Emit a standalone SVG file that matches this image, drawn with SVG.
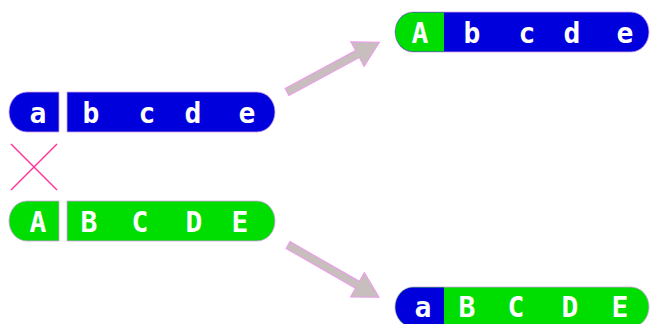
<svg xmlns="http://www.w3.org/2000/svg" width="650" height="324" viewBox="0 0 650 324">
<style>
.b{fill:#0000dd;stroke:#d8a0e8;stroke-width:0.8}
.g{fill:#00dd00;stroke:#d8a0e8;stroke-width:0.8}
.gn{fill:#00dd00}
.bn{fill:#0000dd}
text{font-family:"DejaVu Sans Mono","Liberation Mono",monospace;font-weight:bold;font-size:28px;fill:#ffffff;text-anchor:middle}
.arr{fill:#c8bebe;stroke:#ee99ee;stroke-width:1}
.x{stroke:#ff3399;stroke-width:1.5;fill:none}
</style>
<defs>
<polygon id="arrow" points="0,-4 80,-4 80,-14 105,0 80,14 80,4 0,4"/>
</defs>
<g id="parent1">
<path class="b" d="M59,92 H27 A18,20 0 0 0 27,132 H59 Z"/>
<path class="b" d="M67,92 H257 A18,20 0 0 1 257,132 H67 Z"/>
<text x="38" y="123">a</text>
<text x="91" y="123">b</text>
<text x="147" y="123">c</text>
<text x="193" y="123">d</text>
<text x="247" y="123">e</text>
</g>
<g id="cross">
<line class="x" x1="11" y1="144" x2="57" y2="190"/>
<line class="x" x1="57" y1="144" x2="11" y2="190"/>
</g>
<g id="parent2">
<path class="g" d="M59,201 H27 A18,20 0 0 0 27,241 H59 Z"/>
<path class="g" d="M67,201 H257 A18,20 0 0 1 257,241 H67 Z"/>
<text x="38" y="232">A</text>
<text x="89" y="232">B</text>
<text x="140" y="232">C</text>
<text x="194" y="232">D</text>
<text x="240" y="232">E</text>
</g>
<g id="child1">
<path class="b" d="M413,12 H631 A18,20 0 0 1 631,52 H413 A18,20 0 0 1 413,12 Z"/>
<path class="gn" d="M444,12.4 H413 A17.6,19.6 0 0 0 413,51.6 H444 Z"/>
<text x="420" y="43">A</text>
<text x="472" y="43">b</text>
<text x="527" y="43">c</text>
<text x="572" y="43">d</text>
<text x="625" y="43">e</text>
</g>
<g id="child2">
<path class="g" d="M413,287 H631 A18,20 0 0 1 631,327 H413 A18,20 0 0 1 413,287 Z"/>
<path class="bn" d="M444,287.4 H413 A17.6,19.6 0 0 0 413,326.6 H444 Z"/>
<text x="423" y="317">a</text>
<text x="467" y="317">B</text>
<text x="516" y="317">C</text>
<text x="570" y="317">D</text>
<text x="620" y="317">E</text>
</g>
<g id="connectors">
<use href="#arrow" class="arr" transform="translate(287,92) rotate(-28.3)"/>
<use href="#arrow" class="arr" transform="translate(288,245) rotate(29.8)"/>
</g>
</svg>
